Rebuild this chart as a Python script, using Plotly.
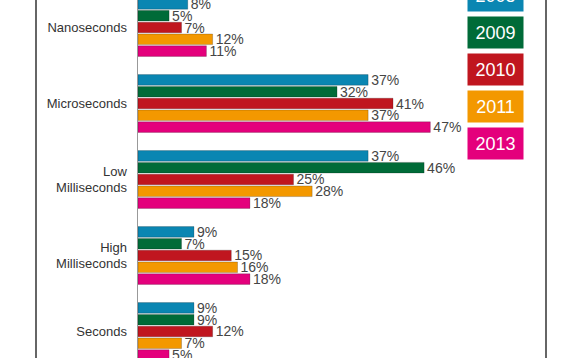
import plotly.graph_objects as go

categories = ["Nanoseconds", "Microseconds", "Low<br>Milliseconds", "High<br>Milliseconds", "Seconds"]
years = ["2008", "2009", "2010", "2011", "2013"]
colors = ["#0a86b2", "#006b38", "#c0161f", "#f39800", "#e4007c"]

v2008 = [8, 37, 37, 9, 9]
v2009 = [5, 32, 46, 7, 9]
v2010 = [7, 41, 25, 15, 12]
v2011 = [12, 37, 28, 16, 7]
v2013 = [11, 47, 18, 18, 5]
series = [v2008, v2009, v2010, v2011, v2013]

W, H = 580, 358
ML, MR = 138, 34
PW = W - ML - MR

font = "Liberation Sans"

fig = go.Figure()
for name, vals, col in zip(years, series, colors):
    fig.add_trace(go.Bar(
        y=categories, x=vals, name=name, orientation="h",
        marker=dict(color=col, line=dict(color="rgba(0,0,0,0.25)", width=0.8)),
        texttemplate="%{x}%", textposition="outside", constraintext="none",
        cliponaxis=False,
        textfont=dict(family=font, size=14, color="#454545"),
        hoverinfo="skip",
    ))

fig.update_layout(
    width=W, height=H,
    margin=dict(l=ML, r=MR, t=0, b=0, pad=0, autoexpand=False),
    paper_bgcolor="white", plot_bgcolor="white",
    barmode="group", bargap=0.224, bargroupgap=0.1,
    showlegend=False,
    font=dict(family=font, color="#333333"),
    xaxis=dict(visible=False, range=[0, 408 / 6.22], fixedrange=True, automargin=False),
    yaxis=dict(
        type="category", range=[4.349, -0.362], automargin=False, fixedrange=True,
        showline=True, linecolor="#999999", linewidth=1.5,
        showgrid=False, zeroline=False, ticks="",
        ticklabelstandoff=7,
        tickfont=dict(family=font, size=13, color="#333333"),
    ),
)

# frame lines
for xp in [(36 - ML) / PW, (546 - ML) / PW]:
    fig.add_shape(type="line", xref="paper", yref="paper", x0=xp, x1=xp, y0=-0.01, y1=1.01,
                  line=dict(color="#666666", width=2))

# legend boxes
for i, (name, col) in enumerate(zip(years, colors)):
    top = -20 + 37 * i
    cy = top + 15.5
    fig.add_annotation(
        xref="paper", yref="paper",
        x=(495.5 - ML) / PW, y=1 - cy / H,
        xanchor="center", yanchor="middle",
        text=name, showarrow=False,
        width=55, height=31, borderpad=0, bgcolor=col,
        font=dict(family=font, size=18, color="white"),
    )

fig.write_html(
    "out.html",
    config={"displayModeBar": False, "staticPlot": True},
    post_script="document.body.style.margin='0';document.body.style.overflow='hidden';",
)
